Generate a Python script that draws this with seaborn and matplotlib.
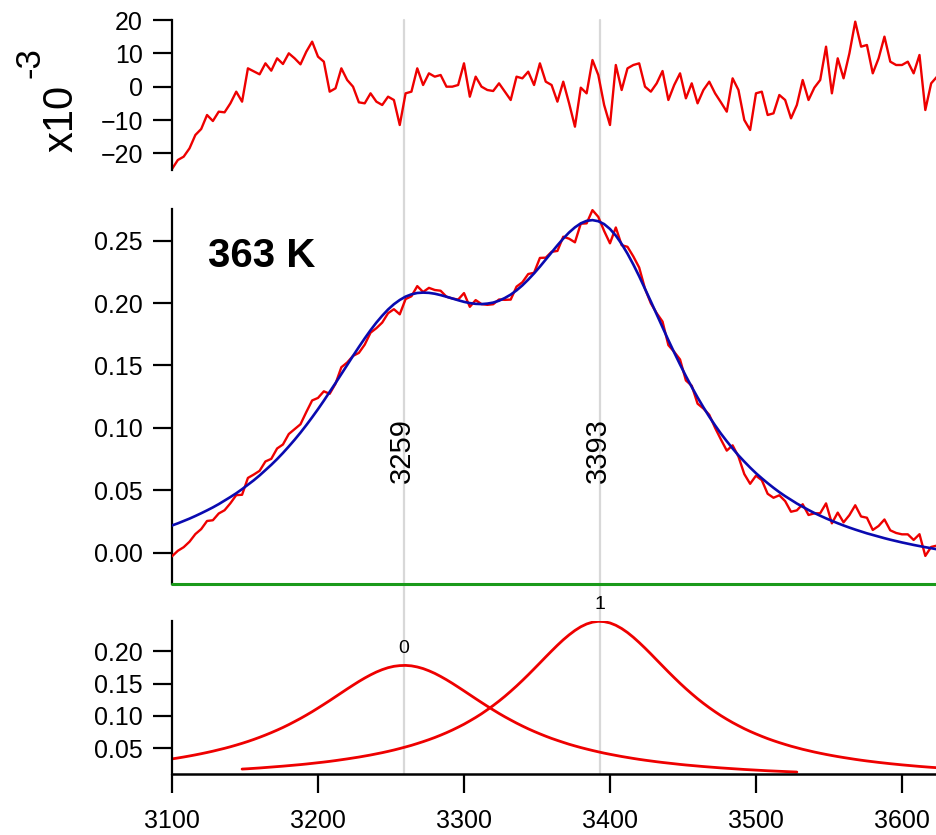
import numpy as np
import pandas as pd
import matplotlib
matplotlib.use("Agg")
import matplotlib.pyplot as plt
import matplotlib.transforms as mtransforms
from matplotlib.lines import Line2D
from matplotlib.ticker import FormatStrFormatter
import seaborn as sns

# ---------------- data ----------------
wavenumber = [
    3100, 3104, 3108, 3112, 3116, 3120, 3124, 3128, 3132, 3136,
    3140, 3144, 3148, 3152, 3156, 3160, 3164, 3168, 3172, 3176,
    3180, 3184, 3188, 3192, 3196, 3200, 3204, 3208, 3212, 3216,
    3220, 3224, 3228, 3232, 3236, 3240, 3244, 3248, 3252, 3256,
    3260, 3264, 3268, 3272, 3276, 3280, 3284, 3288, 3292, 3296,
    3300, 3304, 3308, 3312, 3316, 3320, 3324, 3328, 3332, 3336,
    3340, 3344, 3348, 3352, 3356, 3360, 3364, 3368, 3372, 3376,
    3380, 3384, 3388, 3392, 3396, 3400, 3404, 3408, 3412, 3416,
    3420, 3424, 3428, 3432, 3436, 3440, 3444, 3448, 3452, 3456,
    3460, 3464, 3468, 3472, 3476, 3480, 3484, 3488, 3492, 3496,
    3500, 3504, 3508, 3512, 3516, 3520, 3524, 3528, 3532, 3536,
    3540, 3544, 3548, 3552, 3556, 3560, 3564, 3568, 3572, 3576,
    3580, 3584, 3588, 3592, 3596, 3600, 3604, 3608, 3612, 3616,
    3620, 3624,
]

# measured spectrum (red, middle panel)
absorbance = [
    -0.0029, 0.0015, 0.0044, 0.0088, 0.0149, 0.0189, 0.0254, 0.0260, 0.0314, 0.0340,
    0.0396, 0.0461, 0.0464, 0.0599, 0.0626, 0.0656, 0.0731, 0.0752, 0.0835, 0.0867,
    0.0951, 0.0990, 0.1029, 0.1127, 0.1220, 0.1240, 0.1293, 0.1273, 0.1354, 0.1486,
    0.1524, 0.1577, 0.1601, 0.1667, 0.1763, 0.1799, 0.1844, 0.1919, 0.1951, 0.1910,
    0.2032, 0.2055, 0.2136, 0.2089, 0.2122, 0.2105, 0.2099, 0.2051, 0.2037, 0.2028,
    0.2080, 0.1970, 0.2024, 0.1992, 0.1986, 0.1991, 0.2029, 0.2026, 0.2028, 0.2132,
    0.2167, 0.2233, 0.2243, 0.2362, 0.2364, 0.2411, 0.2418, 0.2532, 0.2516, 0.2487,
    0.2636, 0.2639, 0.2745, 0.2691, 0.2578, 0.2479, 0.2606, 0.2464, 0.2451, 0.2374,
    0.2285, 0.2115, 0.1998, 0.1919, 0.1852, 0.1663, 0.1609, 0.1548, 0.1380, 0.1338,
    0.1194, 0.1155, 0.1105, 0.1000, 0.0907, 0.0818, 0.0860, 0.0770, 0.0630, 0.0552,
    0.0617, 0.0581, 0.0472, 0.0440, 0.0460, 0.0413, 0.0328, 0.0339, 0.0388, 0.0302,
    0.0315, 0.0316, 0.0395, 0.0235, 0.0321, 0.0243, 0.0301, 0.0380, 0.0290, 0.0280,
    0.0182, 0.0214, 0.0266, 0.0179, 0.0158, 0.0147, 0.0147, 0.0102, 0.0148, -0.0026,
    0.0046, 0.0057,
]

# fitted curve (blue, middle panel)
fit = [
    0.0218, 0.0235, 0.0254, 0.0273, 0.0294, 0.0316, 0.0339, 0.0363, 0.0389, 0.0417,
    0.0446, 0.0476, 0.0509, 0.0544, 0.0580, 0.0619, 0.0661, 0.0704, 0.0750, 0.0799,
    0.0851, 0.0905, 0.0962, 0.1022, 0.1085, 0.1150, 0.1218, 0.1288, 0.1359, 0.1431,
    0.1504, 0.1577, 0.1648, 0.1717, 0.1783, 0.1844, 0.1899, 0.1949, 0.1991, 0.2025,
    0.2052, 0.2070, 0.2081, 0.2084, 0.2082, 0.2075, 0.2064, 0.2051, 0.2037, 0.2023,
    0.2010, 0.2000, 0.1994, 0.1992, 0.1996, 0.2004, 0.2019, 0.2041, 0.2068, 0.2102,
    0.2142, 0.2188, 0.2238, 0.2292, 0.2349, 0.2406, 0.2463, 0.2517, 0.2566, 0.2607,
    0.2639, 0.2659, 0.2665, 0.2656, 0.2633, 0.2594, 0.2541, 0.2474, 0.2396, 0.2309,
    0.2215, 0.2115, 0.2013, 0.1909, 0.1805, 0.1703, 0.1604, 0.1508, 0.1415, 0.1328,
    0.1244, 0.1165, 0.1090, 0.1020, 0.0954, 0.0893, 0.0835, 0.0780, 0.0730, 0.0682,
    0.0637, 0.0596, 0.0557, 0.0520, 0.0485, 0.0453, 0.0423, 0.0394, 0.0368, 0.0342,
    0.0318, 0.0296, 0.0275, 0.0255, 0.0236, 0.0218, 0.0201, 0.0185, 0.0170, 0.0155,
    0.0142, 0.0129, 0.0116, 0.0104, 0.0093, 0.0082, 0.0072, 0.0062, 0.0053, 0.0044,
    0.0036, 0.0027,
]

# residual (top panel, units of 1e-3)
residual_e3 = [
    -24.7, -22.0, -21.0, -18.5, -14.5, -12.7, -8.5, -10.3, -7.5, -7.7,
    -5.0, -1.5, -4.5, 5.5, 4.6, 3.7, 7.0, 4.8, 8.5, 6.8,
    10.0, 8.5, 6.7, 10.5, 13.5, 9.0, 7.5, -1.5, -0.5, 5.5,
    2.0, 0.0, -4.7, -5.0, -2.0, -4.5, -5.5, -3.0, -4.0, -11.5,
    -2.0, -1.5, 5.5, 0.5, 4.0, 3.0, 3.5, 0.0, 0.0, 0.5,
    7.0, -3.0, 3.0, 0.0, -1.0, -1.3, 1.0, -1.5, -4.0, 3.0,
    2.5, 4.5, 0.5, 7.0, 1.5, 0.5, -4.5, 1.5, -5.0, -12.0,
    -0.3, -2.0, 8.0, 3.5, -5.5, -11.5, 6.5, -1.0, 5.5, 6.5,
    7.0, 0.0, -1.5, 1.0, 4.7, -4.0, 0.5, 4.0, -3.5, 1.0,
    -5.0, -1.0, 1.5, -2.0, -4.7, -7.5, 2.5, -1.0, -10.0, -13.0,
    -2.0, -1.5, -8.5, -8.0, -2.5, -4.0, -9.5, -5.5, 2.0, -4.0,
    -0.3, 2.0, 12.0, -2.0, 8.5, 2.5, 10.0, 19.5, 12.0, 12.5,
    4.0, 8.5, 15.0, 7.5, 6.5, 6.5, 7.5, 4.0, 9.5, -7.0,
    1.0, 3.0,
]

# peak components (bottom panel)
peak0_x = wavenumber[:108]
peak0 = [
    0.0338, 0.0352, 0.0367, 0.0383, 0.0400, 0.0418, 0.0437, 0.0457, 0.0479, 0.0501,
    0.0525, 0.0551, 0.0578, 0.0607, 0.0638, 0.0671, 0.0706, 0.0743, 0.0782, 0.0823,
    0.0867, 0.0914, 0.0962, 0.1013, 0.1066, 0.1122, 0.1179, 0.1237, 0.1297, 0.1357,
    0.1417, 0.1475, 0.1532, 0.1585, 0.1634, 0.1678, 0.1715, 0.1745, 0.1766, 0.1777,
    0.1780, 0.1773, 0.1756, 0.1731, 0.1697, 0.1657, 0.1610, 0.1559, 0.1504, 0.1446,
    0.1387, 0.1327, 0.1267, 0.1208, 0.1150, 0.1094, 0.1039, 0.0987, 0.0938, 0.0890,
    0.0845, 0.0802, 0.0762, 0.0724, 0.0688, 0.0654, 0.0623, 0.0593, 0.0564, 0.0538,
    0.0513, 0.0490, 0.0468, 0.0447, 0.0427, 0.0409, 0.0392, 0.0375, 0.0360, 0.0345,
    0.0331, 0.0318, 0.0306, 0.0294, 0.0283, 0.0273, 0.0263, 0.0253, 0.0244, 0.0236,
    0.0228, 0.0220, 0.0213, 0.0206, 0.0199, 0.0193, 0.0187, 0.0181, 0.0175, 0.0170,
    0.0165, 0.0160, 0.0155, 0.0151, 0.0147, 0.0143, 0.0139, 0.0135,
]
peak1_x = wavenumber[12:]
peak1 = [
    0.0181, 0.0186, 0.0192, 0.0198, 0.0205, 0.0212, 0.0219, 0.0226, 0.0234, 0.0242,
    0.0250, 0.0259, 0.0269, 0.0279, 0.0289, 0.0300, 0.0312, 0.0325, 0.0338, 0.0352,
    0.0366, 0.0382, 0.0398, 0.0416, 0.0434, 0.0454, 0.0475, 0.0498, 0.0522, 0.0547,
    0.0575, 0.0604, 0.0635, 0.0668, 0.0704, 0.0742, 0.0783, 0.0827, 0.0873, 0.0924,
    0.0977, 0.1034, 0.1096, 0.1161, 0.1230, 0.1303, 0.1381, 0.1462, 0.1547, 0.1635,
    0.1726, 0.1818, 0.1911, 0.2002, 0.2091, 0.2175, 0.2251, 0.2319, 0.2376, 0.2419,
    0.2447, 0.2460, 0.2455, 0.2435, 0.2399, 0.2349, 0.2287, 0.2214, 0.2133, 0.2047,
    0.1957, 0.1864, 0.1772, 0.1680, 0.1591, 0.1504, 0.1421, 0.1342, 0.1266, 0.1195,
    0.1128, 0.1065, 0.1005, 0.0950, 0.0898, 0.0850, 0.0804, 0.0762, 0.0723, 0.0686,
    0.0651, 0.0619, 0.0589, 0.0561, 0.0534, 0.0510, 0.0486, 0.0465, 0.0444, 0.0425,
    0.0407, 0.0390, 0.0374, 0.0359, 0.0345, 0.0331, 0.0318, 0.0306, 0.0295, 0.0284,
    0.0274, 0.0264, 0.0255, 0.0246, 0.0238, 0.0230, 0.0222, 0.0215, 0.0208, 0.0202,
]

peak_positions = [3259, 3393]
peak_position_labels = ["3259", "3393"]
peak_names = ["0", "1"]
baseline = -0.025
temperature_label = "363 K"
x_ticks = [3100, 3200, 3300, 3400, 3500, 3600]
resid_ticks = [-20, -10, 0, 10, 20]
main_ticks = [0.00, 0.05, 0.10, 0.15, 0.20, 0.25]
comp_ticks = [0.05, 0.10, 0.15, 0.20]

# ---------------- styling ----------------
sns.set_style("white")
plt.rcParams["font.family"] = ["Liberation Sans", "DejaVu Sans"]

RED = "#ee0000"
BLUE = "#0a0ab0"
GREEN = "#1a9a1a"
GRAY = "#d8d8d8"

W, H = 937, 835
fig = plt.figure(figsize=(W / 100, H / 100), dpi=100)


def rect(top_px, bottom_px, left_px=172, right_px=937):
    return [left_px / W, 1 - bottom_px / H, (right_px - left_px) / W, (bottom_px - top_px) / H]


ax_res = fig.add_axes(rect(20, 170))
ax_main = fig.add_axes(rect(209, 584))
ax_comp = fig.add_axes(rect(621, 774))

df = pd.DataFrame({
    "wavenumber": wavenumber,
    "absorbance": absorbance,
    "fit": fit,
    "residual": residual_e3,
})
df0 = pd.DataFrame({"wavenumber": peak0_x, "amp": peak0})
df1 = pd.DataFrame({"wavenumber": peak1_x, "amp": peak1})

xlim = (3100, 3624)

# residual panel
sns.lineplot(data=df, x="wavenumber", y="residual", ax=ax_res, color=RED,
             linewidth=1.7, estimator=None, sort=False)
ax_res.set_ylim(-25.0, 20.0)
ax_res.set_yticks(resid_ticks)

# main panel
sns.lineplot(data=df, x="wavenumber", y="absorbance", ax=ax_main, color=RED,
             linewidth=1.7, estimator=None, sort=False, zorder=3)
sns.lineplot(data=df, x="wavenumber", y="fit", ax=ax_main, color=BLUE,
             linewidth=1.9, estimator=None, sort=False, zorder=4)
ax_main.axhline(baseline, color=GREEN, linewidth=2.2, clip_on=False, zorder=5)
ax_main.set_ylim(-0.0251, 0.2754)
ax_main.set_yticks(main_ticks)
ax_main.yaxis.set_major_formatter(FormatStrFormatter("%.2f"))

# component panel
sns.lineplot(data=df0, x="wavenumber", y="amp", ax=ax_comp, color=RED,
             linewidth=2.0, estimator=None, sort=False)
sns.lineplot(data=df1, x="wavenumber", y="amp", ax=ax_comp, color=RED,
             linewidth=2.0, estimator=None, sort=False)
ax_comp.set_ylim(0.0105, 0.2465)
ax_comp.set_yticks(comp_ticks)
ax_comp.yaxis.set_major_formatter(FormatStrFormatter("%.2f"))
ax_comp.set_xticks(x_ticks)

for ax in (ax_res, ax_main, ax_comp):
    ax.set_xlim(*xlim)
    ax.set_facecolor("none")
    ax.patch.set_visible(False)
    ax.set_xlabel("")
    ax.set_ylabel("")
    for s in ("top", "right", "bottom"):
        ax.spines[s].set_visible(False)
    ax.spines["left"].set_visible(True)
    ax.spines["left"].set_color("black")
    ax.spines["left"].set_linewidth(1.6)
    ax.tick_params(axis="y", direction="out", length=14, width=1.6,
                   labelsize=18, pad=7, colors="black", left=True)
    ax.grid(False)

for ax in (ax_res, ax_main):
    ax.tick_params(axis="x", bottom=False, labelbottom=False)

ax_comp.spines["bottom"].set_visible(True)
ax_comp.spines["bottom"].set_color("black")
ax_comp.spines["bottom"].set_linewidth(1.8)
ax_comp.tick_params(axis="x", direction="out", length=14, width=1.6,
                    labelsize=18, pad=11, colors="black", bottom=True)

# vertical peak-position lines through all panels (behind curves)
trans = mtransforms.blended_transform_factory(ax_comp.transData, fig.transFigure)
for pos in peak_positions:
    fig.add_artist(Line2D([pos, pos], [1 - 20 / H, 1 - 774 / H], transform=trans,
                          color=GRAY, linewidth=1.6, zorder=-1))

# peak position labels in main panel
for pos, lab in zip(peak_positions, peak_position_labels):
    ax_main.text(pos - 1.5, 0.0815, lab, rotation=90, ha="center", va="center",
                 fontsize=21, color="black")

# component index labels
for pos, name, comp in zip(peak_positions, peak_names, (peak0, peak1)):
    ax_comp.annotate(name, xy=(pos, max(comp)), xytext=(0, 6),
                     textcoords="offset points", ha="center", va="bottom",
                     fontsize=14, color="black", annotation_clip=False)

# temperature label
ax_main.text(0.047, 0.875, temperature_label, transform=ax_main.transAxes,
             fontsize=29, fontweight="bold", ha="left", va="center", color="black")

# residual scale label
fig.text(62 / W, 1 - 118 / H, "x10", rotation=90, ha="center", va="center",
         fontsize=30, color="black")
fig.text(30 / W, 1 - 63 / H, "-3", rotation=90, ha="center", va="center",
         fontsize=25, color="black")

fig.savefig("out.png", dpi=100)
